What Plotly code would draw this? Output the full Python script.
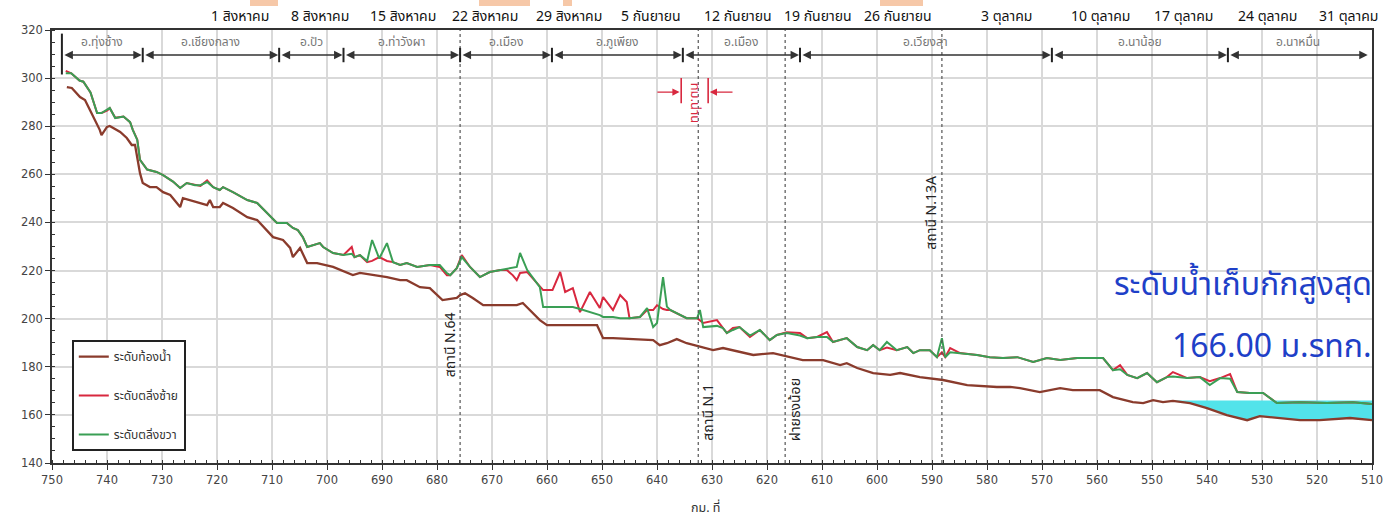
import plotly.graph_objects as go

# ---------------- river profile data (km from mouth, elevation m MSL) ----------------
km_bed = [747.3, 746.4, 744.9, 744.0, 743.1, 741.3, 741.0, 740.0, 739.5, 737.6, 736.4,
          735.5, 734.9, 734.5, 734.0, 733.5, 732.2, 731.0, 729.8, 728.5, 726.7, 726.2,
          724.9, 723.1, 721.8, 721.3, 720.7, 719.5, 718.9, 717.1, 714.5, 712.7, 710.9,
          709.8, 708.0, 706.7, 706.2, 704.9, 703.6, 701.8, 698.9, 695.3, 694.0, 691.6,
          689.1, 686.7, 685.5, 683.1, 681.3, 679.0, 676.4, 675.8, 674.9, 673.5, 671.6,
          669.8, 665.5, 664.4, 661.3, 660.0, 657.6, 650.9, 649.8, 648.0, 640.7, 639.5,
          638.2, 636.4, 634.6, 632.2, 629.8, 628.0, 624.9, 622.5, 618.9, 616.4, 613.5,
          609.8, 606.7, 605.5, 603.6, 600.7, 597.6, 595.8, 592.2, 588.0, 583.6, 578.2,
          575.8, 574.0, 570.4, 566.7, 564.4, 561.8, 559.5, 557.1, 553.5, 551.6, 549.8,
          548.0, 546.2, 543.1, 540.0, 536.4, 532.7, 530.4, 526.7, 523.1, 519.5, 514.0,
          510.0]
bed = [296.3, 295.9, 292.1, 290.9, 286.7, 278.4, 276.3, 279.7, 280.1, 277.6, 275.1,
       272.2, 272.2, 267.2, 260.5, 256.4, 254.7, 254.7, 252.6, 251.4, 246.4, 250.1,
       249.3, 248.1, 247.2, 249.3, 246.4, 246.4, 248.1, 246.0, 242.2, 241.0, 236.8,
       233.9, 232.7, 229.4, 225.6, 229.4, 223.1, 223.1, 221.5, 218.1, 219.0, 218.1,
       217.3, 216.0, 216.0, 213.1, 212.7, 207.7, 208.6, 209.8, 210.6, 208.6, 205.6,
       205.6, 205.6, 206.5, 199.4, 197.3, 197.3, 197.3, 191.9, 191.9, 191.1, 189.0,
       189.8, 191.5, 189.8, 188.2, 186.9, 187.8, 186.1, 184.9, 185.7, 184.4, 182.8,
       182.8, 180.7, 181.5, 179.5, 177.4, 176.6, 177.4, 175.7, 174.5, 172.4, 171.6,
       171.6, 171.1, 169.5, 171.1, 170.3, 170.3, 170.3, 167.4, 165.3, 164.9, 166.1,
       165.3, 165.8, 164.9, 162.8, 159.9, 157.8, 159.5, 158.7, 157.8, 157.8, 158.7,
       157.8]

km_bank = [747.5, 746.5, 745.0, 744.3, 743.0, 741.8, 741.0, 740.0, 739.5, 738.5, 737.0,
           735.8, 735.3, 734.5, 734.0, 732.7, 731.0, 729.8, 728.0, 726.7, 725.5, 724.0,
           723.0, 721.8, 720.7, 719.5, 718.9, 717.1, 714.5, 712.7, 710.9, 709.1, 707.3,
           706.2, 705.3, 704.4, 703.6, 701.3, 700.7, 698.9, 697.0, 695.5, 695.0, 694.0,
           692.7, 691.8, 690.5, 689.1, 688.0, 686.7, 685.5, 683.6, 681.3, 679.5, 678.2,
           677.6, 676.4, 675.5, 674.0, 672.2, 670.4, 668.5, 667.3, 666.2, 665.5, 664.9,
           663.6, 661.3, 660.7, 659.0, 657.6, 656.7, 655.3, 654.0, 652.2, 650.4, 649.8,
           648.0, 646.7, 645.5, 645.0, 643.1, 641.8, 640.7, 640.0, 638.9, 638.2, 637.6,
           635.8, 634.6, 632.7, 632.2, 631.6, 629.1, 628.0, 627.3, 626.2, 625.0, 623.1,
           621.3, 619.5, 618.2, 616.4, 614.0, 612.7, 610.9, 609.1, 608.0, 605.5, 603.6,
           601.8, 600.7, 599.5, 598.2, 596.4, 594.5, 593.4, 592.2, 590.4, 589.1, 588.2,
           587.6, 586.7, 584.9, 581.8, 579.5, 577.1, 574.5, 571.6, 569.1, 566.7, 563.6,
           560.7, 558.9, 557.1, 555.8, 554.5, 552.7, 550.9, 549.1, 547.3, 546.2, 543.6,
           541.3, 539.5, 537.6, 535.8, 534.5, 532.2, 529.8, 527.3, 523.1, 518.2, 513.5,
           510.0]
left_bank = [303.0, 302.0, 299.0, 298.5, 294.0, 285.5, 285.5, 286.5, 287.5, 283.5, 284.0,
             281.7, 278.5, 274.5, 266.0, 262.0, 261.0, 259.7, 257.0, 254.3, 256.4, 255.5,
             255.2, 257.5, 254.7, 253.5, 254.7, 252.6, 249.3, 248.1, 243.9, 239.8, 239.8,
             237.7, 236.8, 233.9, 229.8, 231.4, 229.8, 227.3, 226.5, 229.8, 225.6, 226.4,
             223.5, 224.0, 225.6, 224.0, 223.5, 222.3, 223.1, 221.5, 222.3, 221.5, 218.1,
             218.1, 221.0, 226.4, 221.5, 217.3, 219.4, 220.2, 220.2, 218.0, 216.0, 219.0,
             219.4, 213.1, 211.9, 211.9, 219.4, 211.1, 212.7, 202.7, 211.1, 204.4, 209.0,
             203.6, 209.8, 206.9, 200.2, 200.7, 203.6, 203.6, 205.6, 204.0, 203.6, 203.6,
             201.5, 200.2, 200.2, 199.4, 198.2, 199.4, 196.1, 194.0, 196.1, 196.5, 192.4,
             195.3, 191.1, 193.2, 194.4, 194.0, 191.9, 192.4, 194.4, 190.3, 191.9, 188.2,
             186.9, 189.0, 186.9, 188.0, 186.9, 188.2, 185.7, 186.9, 186.9, 184.0, 186.0,
             184.0, 187.8, 185.7, 184.9, 184.0, 183.6, 184.0, 182.0, 183.6, 182.8, 183.6,
             183.6, 183.6, 178.6, 180.7, 176.6, 175.3, 177.4, 173.6, 175.7, 177.8, 175.3,
             175.7, 174.0, 175.3, 177.0, 169.5, 169.1, 169.1, 164.9, 165.3, 164.9, 165.3,
             164.5]
right_bank = [302.0, 302.0, 299.0, 298.5, 294.0, 285.5, 285.5, 286.7, 287.6, 283.4, 284.0,
              281.7, 278.4, 274.3, 266.0, 262.0, 261.0, 259.7, 257.0, 254.3, 256.4, 255.5,
              255.5, 256.8, 254.7, 253.5, 254.7, 252.6, 249.3, 248.1, 243.9, 239.8, 239.8,
              237.7, 236.8, 233.9, 229.8, 231.4, 229.8, 227.3, 226.5, 227.0, 225.6, 226.4,
              224.0, 232.7, 225.0, 231.4, 223.5, 222.3, 223.1, 221.5, 222.3, 222.3, 218.9,
              218.1, 221.0, 225.6, 221.5, 217.3, 219.4, 220.2, 220.5, 221.0, 221.5, 227.3,
              220.2, 213.1, 204.8, 204.8, 204.8, 204.8, 204.8, 204.0, 202.7, 201.5, 200.7,
              200.7, 200.2, 200.2, 200.2, 200.7, 204.4, 196.5, 198.2, 217.3, 205.0, 203.6,
              201.5, 200.2, 200.2, 203.6, 196.5, 197.0, 196.1, 194.0, 195.3, 196.5, 193.0,
              195.3, 191.1, 193.2, 194.0, 193.0, 191.9, 192.4, 192.4, 190.3, 191.9, 188.2,
              186.9, 189.0, 186.9, 190.3, 186.9, 188.2, 185.7, 186.9, 186.9, 184.0, 191.9,
              184.0, 186.0, 185.7, 184.9, 184.0, 183.6, 184.0, 182.0, 183.6, 182.8, 183.6,
              183.6, 183.6, 178.6, 179.0, 176.6, 175.3, 177.4, 173.6, 175.7, 176.0, 175.3,
              175.7, 172.4, 175.3, 175.0, 169.5, 169.1, 169.1, 164.9, 165.3, 164.9, 165.3,
              164.5]

# maximum storage level of the downstream reservoir
water_level = 166.00
reservoir_start_km = 547.0

# districts along the river (boundaries in km)
district_names = ["อ.ทุ่งช้าง", "อ.เชียงกลาง", "อ.ปัว", "อ.ท่าวังผา", "อ.เมือง",
                  "อ.ภูเพียง", "อ.เมือง", "อ.เวียงสา", "อ.นาน้อย", "อ.นาหมื่น"]
district_bounds = [748.2, 733.5, 708.7, 697.0, 675.8, 659.1, 635.3, 614.0, 568.2, 536.2, 510.6]

# gauging stations / weir
station_names = ["สถานี N.64", "สถานี N.1", "ฝายธงน้อย", "สถานี N.13A"]
station_km = [675.8, 632.5, 616.7, 588.2]

# weekly dates printed along the top
date_labels = ["1 สิงหาคม", "8 สิงหาคม", "15 สิงหาคม", "22 สิงหาคม", "29 สิงหาคม",
               "5 กันยายน", "12 กันยายน", "19 กันยายน", "26 กันยายน", "3 ตุลาคม",
               "10 ตุลาคม", "17 ตุลาคม", "24 ตุลาคม", "31 ตุลาคม"]

# municipality reach (km)
municipal_name = "ทม.น่าน"
municipal_bounds = [635.6, 630.7]

x_title = "กม. ที่"

# ---------------- figure ----------------
W, H = 1385, 519
ML, MR, MT, MB = 52, 13, 30, 56
PW = W - ML - MR
PH = H - MT - MB


def py(px_from_top):
    """paper y for a pixel row measured from the top of the page"""
    return (H - MB - px_from_top) / PH


BED_C = "#8a3b2c"
LEFT_C = "#d8283f"
RIGHT_C = "#3a9f55"
THAI = "Tahoma, 'Noto Sans Thai', 'Noto Sans', 'DejaVu Sans', sans-serif"

fig = go.Figure()

# reservoir water body: storage level down to the river bed
res_km = [k for k in km_bed if k <= reservoir_start_km]
res_bed = [b for k, b in zip(km_bed, bed) if k <= reservoir_start_km]
fig.add_trace(go.Scatter(
    x=[reservoir_start_km, res_km[-1]] + res_km[::-1],
    y=[water_level, water_level] + [min(b, water_level) for b in res_bed[::-1]],
    fill="toself", fillcolor="#52e3ea", line=dict(width=0),
    mode="lines", showlegend=False, hoverinfo="skip"))

fig.add_trace(go.Scatter(x=km_bed, y=bed, mode="lines", name="ระดับท้องน้ำ",
                         line=dict(color=BED_C, width=2.3), legendgroup="a"))
fig.add_trace(go.Scatter(x=km_bank, y=left_bank, mode="lines", name="ระดับตลิ่งซ้าย",
                         line=dict(color=LEFT_C, width=2), legendgroup="b"))
fig.add_trace(go.Scatter(x=km_bank, y=right_bank, mode="lines", name="ระดับตลิ่งขวา",
                         line=dict(color=RIGHT_C, width=2), legendgroup="c"))

shapes = []
annotations = []

# station lines and labels
station_side = [-1, 1, 1, -1]
station_y = [189, 161, 162, 244]
for name, k, side, yy in zip(station_names, station_km, station_side, station_y):
    shapes.append(dict(type="line", xref="x", yref="y", x0=k, x1=k, y0=140, y1=320,
                       line=dict(color="#555", width=1.2, dash="dot")))
    annotations.append(dict(x=k, y=yy, xref="x", yref="y", text=name, showarrow=False,
                            textangle=-90, xshift=side * 10,
                            font=dict(family=THAI, size=14, color="#222")))

# district reaches along the top
seg_y = 309.6
for i, name in enumerate(district_names):
    a, b = district_bounds[i], district_bounds[i + 1]
    annotations.append(dict(x=b, y=seg_y, ax=a, ay=seg_y, xref="x", yref="y",
                            axref="x", ayref="y", text="", showarrow=True,
                            arrowhead=2, arrowside="end+start", arrowsize=1.3,
                            arrowwidth=1.3, arrowcolor="#333", standoff=1, startstandoff=1))
    annotations.append(dict(x=(a + b) / 2, y=315.0, xref="x", yref="y", text=name,
                            showarrow=False, font=dict(family=THAI, size=12, color="#777")))
for j, k in enumerate(district_bounds[:-1]):
    y0, y1 = (301.5, 318.5) if j == 0 else (306.6, 312.6)
    shapes.append(dict(type="line", xref="x", yref="y", x0=k, x1=k, y0=y0, y1=y1,
                       line=dict(color="#222", width=2)))

# municipality reach marker
for k in municipal_bounds:
    shapes.append(dict(type="line", xref="x", yref="y", x0=k, x1=k, y0=289.6, y1=300,
                       line=dict(color=LEFT_C, width=1.6)))
annotations.append(dict(x=municipal_bounds[0] + 0.3, y=294.2, ax=640.2, ay=294.2,
                        xref="x", yref="y", axref="x", ayref="y", text="", showarrow=True,
                        arrowhead=2, arrowsize=1.2, arrowwidth=1.2, arrowcolor=LEFT_C))
annotations.append(dict(x=municipal_bounds[1] - 0.3, y=294.2, ax=626.0, ay=294.2,
                        xref="x", yref="y", axref="x", ayref="y", text="", showarrow=True,
                        arrowhead=2, arrowsize=1.2, arrowwidth=1.2, arrowcolor=LEFT_C))
annotations.append(dict(x=(municipal_bounds[0] + municipal_bounds[1]) / 2, y=289.5,
                        xref="x", yref="y", text=municipal_name, showarrow=False,
                        textangle=90, font=dict(family=THAI, size=13, color=LEFT_C)))

# storage level note
annotations.append(dict(x=1.0, y=py(285), xref="paper", yref="paper", xanchor="right",
                        yanchor="middle", xshift=2,
                        text="ระดับน้ำเก็บกักสูงสุด", showarrow=False,
                        font=dict(family=THAI, size=32, color="#1e40c8")))
annotations.append(dict(x=1.0, y=py(347), xref="paper", yref="paper", xanchor="right",
                        yanchor="middle", xshift=2,
                        text=f"{water_level:.2f} ม.รทก.", showarrow=False,
                        font=dict(family=THAI, size=32, color="#1e40c8")))

# dates along the top
date_px = [240, 320, 403, 485, 569, 651, 738, 818, 898, 1006, 1100, 1183, 1267, 1348]
for lab, px in zip(date_labels, date_px):
    annotations.append(dict(x=(px - ML) / PW, y=py(16), xref="paper", yref="paper",
                            xanchor="center", yanchor="middle", text=lab, showarrow=False,
                            font=dict(family=THAI, size=14, color="#111")))

# x-axis caption below the tick labels
annotations.append(dict(x=(705 - ML) / PW, y=py(508), xref="paper", yref="paper",
                        xanchor="center", yanchor="middle", text=x_title, showarrow=False,
                        font=dict(family=THAI, size=12.5, color="#333")))

# faint header residue along the top edge
for x0, x1 in [(250, 278), (479, 530), (563, 572), (880, 923)]:
    shapes.append(dict(type="rect", xref="paper", yref="paper",
                       x0=(x0 - ML) / PW, x1=(x1 - ML) / PW, y0=py(6), y1=py(0),
                       line=dict(width=0), fillcolor="#f6c8a8", layer="below"))

axis_font = dict(family="Tahoma, 'DejaVu Sans', sans-serif", size=11.5, color="#444")
fig.update_layout(
    width=W, height=H,
    margin=dict(l=ML, r=MR, t=MT, b=MB),
    paper_bgcolor="white", plot_bgcolor="white",
    shapes=shapes, annotations=annotations,
    legend=dict(x=0.015, y=0.284, xanchor="left", yanchor="top",
                bordercolor="#222", borderwidth=2, bgcolor="white",
                tracegroupgap=20, itemwidth=30,
                font=dict(family=THAI, size=12, color="#333")),
    xaxis=dict(range=[750, 510], dtick=10, tick0=510, showgrid=True, automargin=False,
               gridcolor="#d9d9d9", gridwidth=1.5, zeroline=False,
               showline=True, linecolor="#333", linewidth=1.5, mirror=True,
               ticks="outside", ticklen=5, tickcolor="#333",
               minor=dict(dtick=2, ticks="inside", ticklen=3, tickcolor="#333", showgrid=False),
               tickfont=axis_font),
    yaxis=dict(range=[140, 320], dtick=20, showgrid=True, automargin=False,
               gridcolor="#d9d9d9", gridwidth=1.5, zeroline=False,
               showline=True, linecolor="#333", linewidth=1.5, mirror=True,
               ticks="outside", ticklen=5, tickcolor="#333",
               minor=dict(dtick=5, ticks="inside", ticklen=3, tickcolor="#333", showgrid=False),
               tickfont=axis_font),
)

fig.write_html("out.html")
